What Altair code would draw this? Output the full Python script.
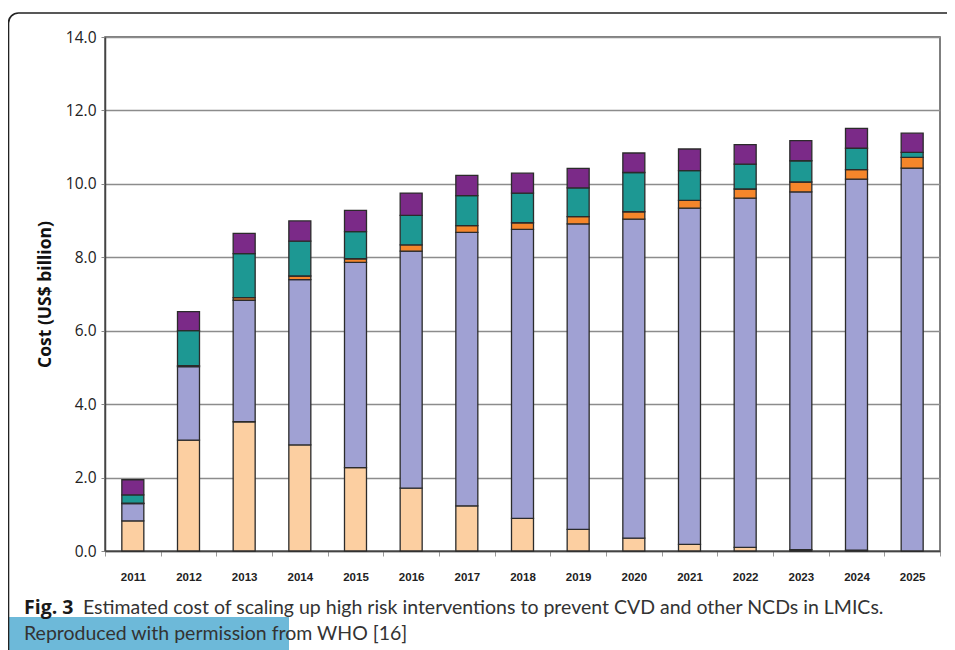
import altair as alt
import pandas as pd

# ---------------- data ----------------
years = [str(y) for y in range(2011, 2026)]
series_names = ["Component 1", "Component 2", "Component 3", "Component 4", "Component 5"]
series_colors = ["#FCCFA1", "#A0A1D3", "#F5862B", "#1D9893", "#7B2A88"]

peach = [0.82, 3.02, 3.52, 2.89, 2.27, 1.71, 1.23, 0.89, 0.59, 0.35, 0.18, 0.10, 0.04, 0.02, 0.00]
lavender = [0.47, 2.00, 3.31, 4.50, 5.59, 6.46, 7.45, 7.87, 8.32, 8.69, 9.16, 9.51, 9.74, 10.11, 10.43]
orange = [0.01, 0.03, 0.07, 0.10, 0.10, 0.17, 0.18, 0.18, 0.20, 0.20, 0.21, 0.25, 0.27, 0.26, 0.29]
teal = [0.23, 0.95, 1.20, 0.95, 0.74, 0.80, 0.82, 0.81, 0.78, 1.07, 0.81, 0.68, 0.58, 0.58, 0.14]
purple = [0.41, 0.52, 0.55, 0.55, 0.58, 0.61, 0.55, 0.54, 0.53, 0.53, 0.59, 0.53, 0.55, 0.54, 0.52]

y_ticks = [0, 2, 4, 6, 8, 10, 12, 14]
y_title = "Cost (US$ billion)"
caption_bold = "Fig. 3"
caption_line1 = "Estimated cost of scaling up high risk interventions to prevent CVD and other NCDs in LMICs."
caption_line2 = "Reproduced with permission from WHO [16]"

rows = []
for k, (name, vals) in enumerate(zip(series_names, [peach, lavender, orange, teal, purple])):
    for yr, v in zip(years, vals):
        rows.append({"year": yr, "series": name, "value": v, "k": k})
df = pd.DataFrame(rows)

W, H = 835, 514
PAD = {"left": 97, "top": 29, "right": 7, "bottom": 99}

bars = alt.Chart(df).mark_bar(size=22, stroke="#2b2b2b", strokeWidth=1.3).encode(
    x=alt.X(
        "year:N",
        sort=years,
        scale=alt.Scale(paddingInner=0, paddingOuter=0),
        axis=alt.Axis(
            title=None, labelAngle=0, tickBand="extent", tickSize=5, tickColor="#999999",
            domainColor="#444444", domainWidth=1.5, labelFont="Liberation Sans",
            labelFontWeight="bold", labelFontSize=11.5, labelColor="#222222", labelPadding=15,
            grid=False,
        ),
    ),
    y=alt.Y(
        "value:Q",
        stack="zero",
        scale=alt.Scale(domain=[0, 14], nice=False),
        axis=alt.Axis(
            title=y_title, values=y_ticks, format=".1f", tickSize=4, tickColor="#888888",
            domainColor="#444444", domainWidth=1.5, gridColor="#8c8c8c", gridWidth=1.5,
            labelFont="Open Sans", labelFontSize=15.5, labelColor="#222222", labelPadding=5,
            titleFont="Open Sans", titleFontWeight="bold", titleFontSize=17.5,
            titleColor="#111111", titlePadding=11,
        ),
    ),
    color=alt.Color("series:N", scale=alt.Scale(domain=series_names, range=series_colors), legend=None),
    order=alt.Order("k:Q", sort="ascending"),
)

one = pd.DataFrame({"t": [""]})

blue = alt.Chart(one).mark_rect(color="#6DB9D9").encode(
    x=alt.value(-105), x2=alt.value(184), y=alt.value(580), y2=alt.value(640)
)

frame = alt.Chart(one).mark_rect(
    fill="white", fillOpacity=0, stroke="#222222", strokeWidth=1.6, cornerRadius=10
).encode(
    x=alt.value(-96.5), x2=alt.value(900), y=alt.value(-24), y2=alt.value(700)
)

cap_b = alt.Chart(pd.DataFrame({"t": [caption_bold]})).mark_text(
    align="left", baseline="alphabetic", font="Open Sans", fontWeight="bold", fontSize=19.5, color="#1a1a1a"
).encode(x=alt.value(-81), y=alt.value(577), text="t:N")

cap_1 = alt.Chart(pd.DataFrame({"t": [caption_line1]})).mark_text(
    align="left", baseline="alphabetic", font="Lato", fontSize=19.5, color="#333333"
).encode(x=alt.value(-22), y=alt.value(577), text="t:N")

cap_2 = alt.Chart(pd.DataFrame({"t": [caption_line2]})).mark_text(
    align="left", baseline="alphabetic", font="Lato", fontSize=19.5, color="#333333"
).encode(x=alt.value(-81), y=alt.value(603), text="t:N")

chart = alt.layer(blue, frame, bars, cap_b, cap_1, cap_2).properties(
    width=W, height=H,
    autosize=alt.AutoSizeParams(type="none"),
    padding=PAD,
    background="white",
).configure_view(stroke="#555555", strokeWidth=1.5)

chart.save("out.html", embed_options={"renderer": "svg", "actions": False})
